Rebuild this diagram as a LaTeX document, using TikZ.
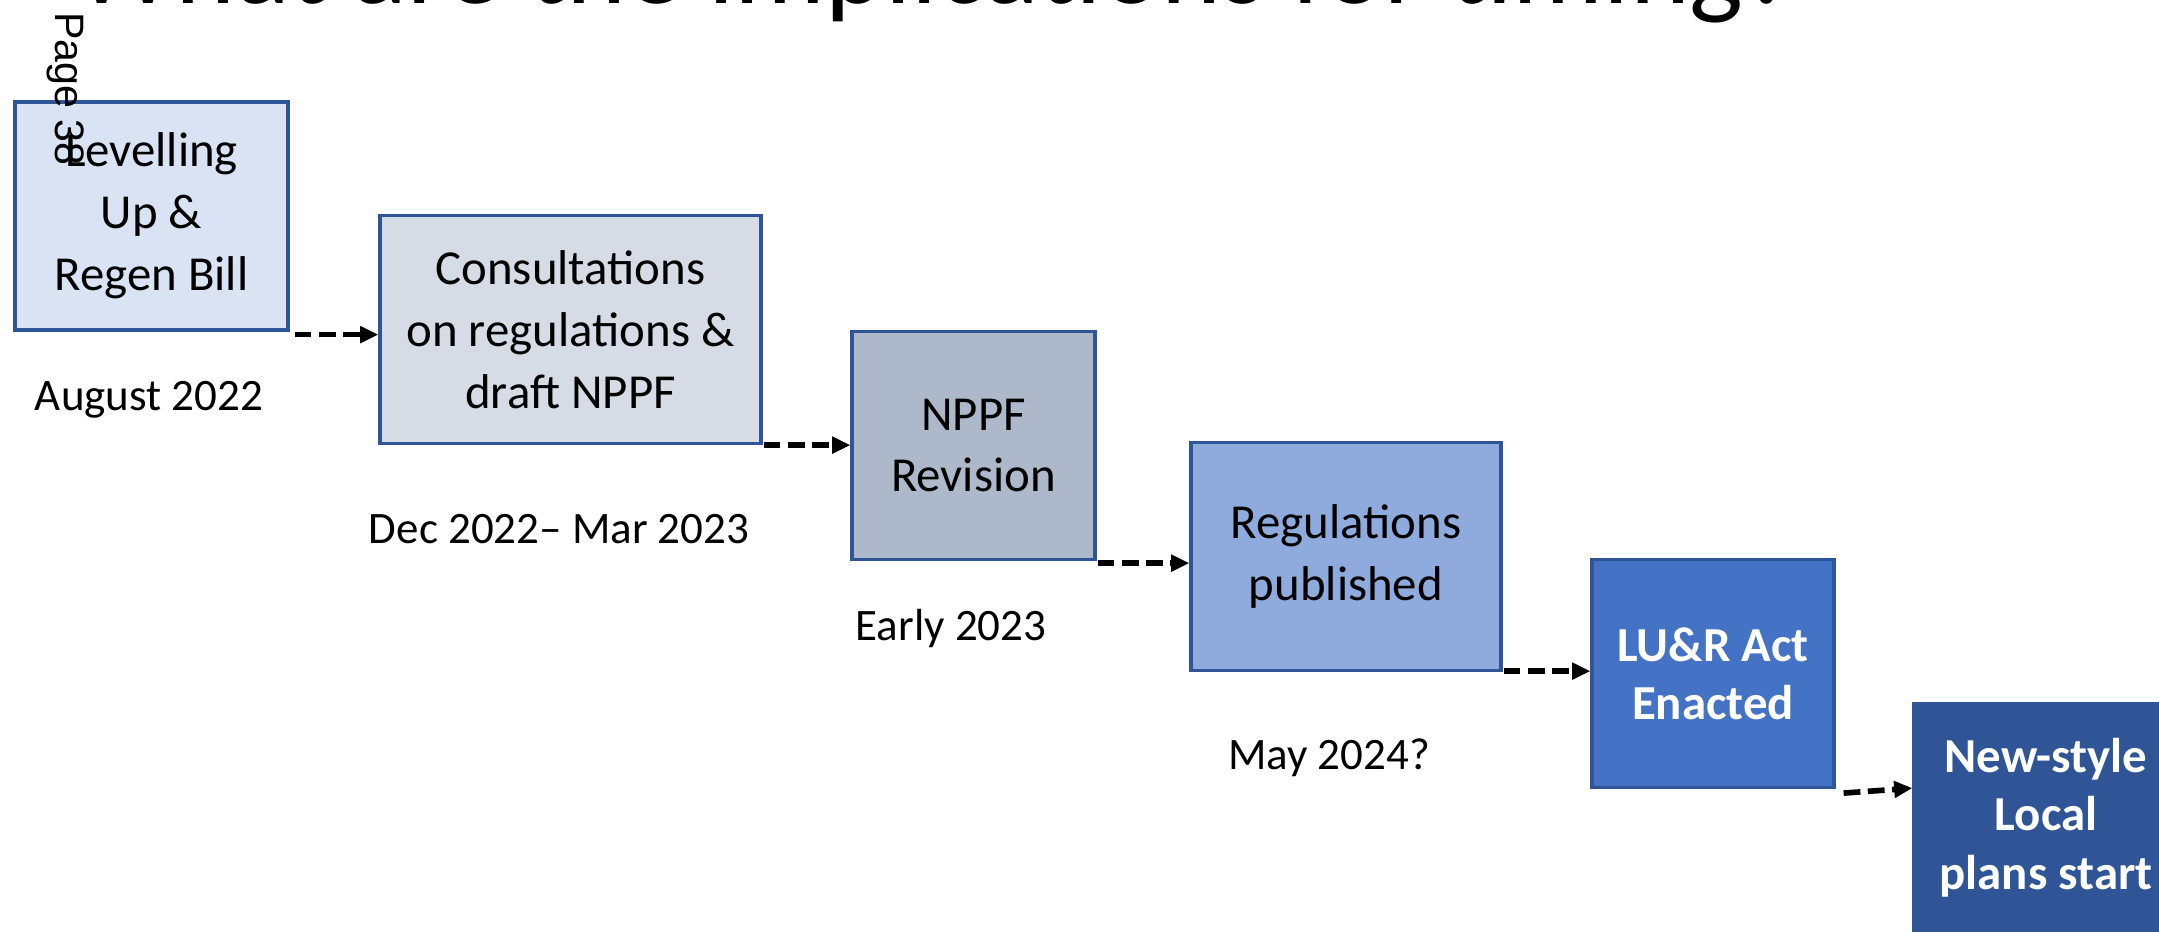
\documentclass[tikz,border=0pt]{standalone}
\usepackage{fontspec}
\setmainfont{Carlito}
\newfontfamily\pagefont{Liberation Sans}
\usetikzlibrary{arrows.meta}
\definecolor{boxline}{HTML}{2F5597}
\definecolor{fillA}{HTML}{DAE3F3}
\definecolor{fillB}{HTML}{D6DCE5}
\definecolor{fillC}{HTML}{ADB9CA}
\definecolor{fillD}{HTML}{8FAADC}
\definecolor{fillE}{HTML}{4472C4}
\definecolor{fillF}{HTML}{2F5597}

\begin{document}
\begin{tikzpicture}[
	stage/.style={draw=boxline, line width=0.9pt, align=center, inner sep=0pt,
		minimum height=2.28cm, font=\fontsize{13.9}{17.6}\selectfont},
	keystage/.style={stage, text=white, font=\fontsize{13.9}{16.6}\selectfont\bfseries},
	when/.style={font=\fontsize{12.8}{15}\selectfont},
	flow/.style={line width=1.6pt, dash pattern=on 4.8pt off 2.1pt,
		-{Triangle[length=5.2pt,width=4.6pt]}}
]
	\useasboundingbox (0,0) rectangle (21.59,-9.31);
	\clip (0,0) rectangle (21.59,-9.31);
	\node[anchor=base west, font=\fontsize{32.4}{38}\selectfont] (title) at (0.62,-0.03) {What are the implications for timing?};

	\node[stage, fill=fillA, minimum width=2.73cm] (bill) at (1.515,-2.16) {Levelling\\Up \&\\Regen Bill};
	\node[stage, fill=fillB, minimum width=3.81cm] (consult) at (5.705,-3.295) {Consultations\\on regulations \&\\draft NPPF};
	\node[stage, fill=fillC, minimum width=2.43cm] (nppf) at (9.735,-4.455) {NPPF\\Revision};
	\node[stage, fill=fillD, minimum width=3.10cm] (regs) at (13.46,-5.565) {Regulations\\published};
	\node[keystage, fill=fillE, minimum width=2.42cm] (act) at (17.13,-6.735) {LU\&R Act\\Enacted};
	\node[keystage, fill=fillF, minimum width=2.64cm] (plans) at (20.46,-8.175) {New-style\\Local\\plans start};

	\node[when] (billdate) at (1.49,-4.0) {August 2022};
	\node[when] (consultdate) at (5.59,-5.29) {Dec 2022– Mar 2023};
	\node[when] (nppfdate) at (9.51,-6.28) {Early 2023};
	\node[when] (regsdate) at (13.29,-7.58) {May 2024?};

	\draw[flow] ([xshift=0.05cm,yshift=-0.03cm]bill.south east) -- ([yshift=-0.03cm]bill.south east -| consult.west);
	\draw[flow] ([xshift=0.01cm]consult.south east) -- (consult.south east -| nppf.west);
	\draw[flow] ([xshift=0.01cm,yshift=-0.02cm]nppf.south east) -- ([yshift=-0.02cm]nppf.south east -| regs.west);
	\draw[flow] ([xshift=0.01cm,yshift=0.01cm]regs.south east) -- ([yshift=0.01cm]regs.south east -| act.west);
	\draw[flow] ([xshift=0.08cm,yshift=-0.04cm]act.south east) -- ([yshift=0.01cm]act.south east -| plans.west);

	\node[rotate=-90, inner sep=0pt, font=\pagefont\fontsize{11.7}{14}\selectfont] (page) at (0.655,-0.89) {Page 38};
\end{tikzpicture}
\end{document}
